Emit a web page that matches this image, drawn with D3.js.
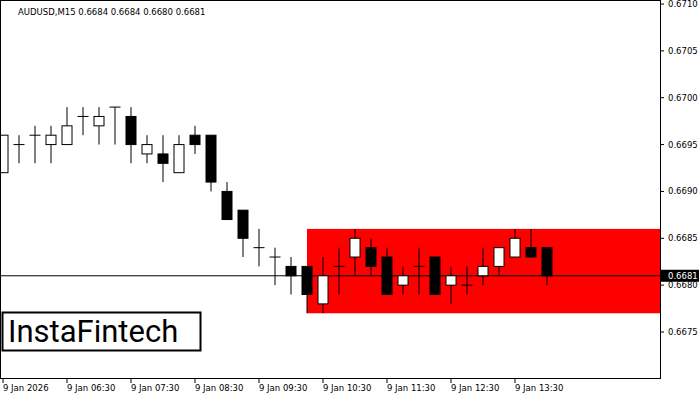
<!doctype html>
<head><meta charset="utf-8" />
<style>
  body { margin: 0; background: #fff; }
  text { font-family: "DejaVu Sans", sans-serif; font-size: 8.5px; fill: #000; }
</style>
</head>
<body>
<svg id="chart" width="700" height="400"></svg>
<script src="https://cdn.jsdelivr.net/npm/d3@7/dist/d3.min.js"></script>
<script>
  var opens  = [.6692,.6695,.6696,.6695,.6695,.6698,.6697,.6699,.6698,.6694,.6694,.6692,.6696,.6696,.6690,.6688,.6684,.6683,.6682,.6682,.6678,.6682,.6683,.6684,.6683,.6680,.6682,.6683,.6680,.6680,.6681,.6682,.6683,.6684,.6684]
    , highs  = [.6696,.6696,.6697,.6697,.6699,.6699,.6699,.6699,.6699,.6696,.6696,.6696,.6697,.6696,.6691,.6688,.6686,.6684,.6683,.6682,.6683,.6684,.6686,.6685,.6684,.6682,.6684,.6683,.6682,.6682,.6684,.6684,.6686,.6686,.6684]
    , lows   = [.6692,.6693,.6693,.6693,.6695,.6696,.6695,.6695,.6693,.6693,.6691,.6692,.6694,.6690,.6687,.6683,.6682,.6680,.6679,.6677,.6677,.6679,.6681,.6681,.6679,.6679,.6679,.6679,.6678,.6679,.6680,.6681,.6683,.6683,.6680]
    , closes = [.6696,.6695,.6696,.6696,.6697,.6698,.6698,.6699,.6695,.6695,.6693,.6695,.6695,.6691,.6687,.6685,.6684,.6683,.6681,.6679,.6681,.6682,.6685,.6682,.6679,.6681,.6682,.6679,.6681,.6680,.6682,.6684,.6685,.6683,.6681]
    , priceTicks = [.6675,.6680,.6685,.6690,.6695,.6700,.6705,.6710]
    , timeLabels = ['9 Jan 2026','9 Jan 06:30','9 Jan 07:30','9 Jan 08:30','9 Jan 09:30','9 Jan 10:30','9 Jan 11:30','9 Jan 12:30','9 Jan 13:30']
    , timeIdx = [0,4,8,12,16,20,24,28,32]
    , zoneTop = .6686, zoneBottom = .6677, zoneStart = 19
    , last = .6681

  var W = 660, H = 378
    , svg = d3.select('#chart')
    , x = d3.scaleLinear().domain([0, 1]).range([3, 19])
    , y = d3.scaleLinear().domain([.6710, .6675]).range([4, 332])
    , fmt = d3.format('.4f')

  // sell zone
  svg.append('rect')
      .attr('x', x(zoneStart)).attr('y', y(zoneTop))
      .attr('width', W - x(zoneStart)).attr('height', y(zoneBottom) - y(zoneTop))
      .attr('fill', '#ff0000')

  // last price line
  svg.append('line')
      .attr('x1', 0).attr('x2', W).attr('y1', y(last)).attr('y2', y(last))
      .attr('stroke', '#000').attr('stroke-width', 1)

  var candles = svg.append('g').selectAll('g').data(opens).join('g')

  candles.append('line')
      .attr('x1', (d, i) => x(i)).attr('x2', (d, i) => x(i))
      .attr('y1', (d, i) => y(highs[i])).attr('y2', (d, i) => y(lows[i]))
      .attr('stroke', '#000')

  candles.append('rect')
      .attr('x', (d, i) => x(i) - 5)
      .attr('y', (d, i) => y(Math.max(d, closes[i])))
      .attr('width', 10)
      .attr('height', (d, i) => Math.max(0.01, Math.abs(y(d) - y(closes[i]))))
      .attr('fill', (d, i) => closes[i] < d ? '#000' : '#fff')
      .attr('stroke', '#000')

  // frame
  svg.append('rect').attr('x', 0.5).attr('y', 0.5).attr('width', W).attr('height', H)
      .attr('fill', 'none').attr('stroke', '#000')

  // right axis
  var ra = svg.append('g')
  priceTicks.forEach(function (p) {
    ra.append('line').attr('x1', W).attr('x2', W + 4).attr('y1', y(p)).attr('y2', y(p)).attr('stroke', '#000')
    ra.append('text').attr('x', W + 8).attr('y', y(p) + 3).text(fmt(p))
  })
  ra.append('rect').attr('x', W + 1).attr('y', y(last) - 6).attr('width', 38).attr('height', 12).attr('fill', '#000')
  ra.append('text').attr('x', W + 8).attr('y', y(last) + 3).style('fill', '#fff').text(fmt(last))

  // bottom axis
  timeIdx.forEach(function (t, k) {
    var tx = k === 0 ? 3 : x(t)
    svg.append('line').attr('x1', tx).attr('x2', tx).attr('y1', H).attr('y2', H + 5).attr('stroke', '#000')
    svg.append('text').attr('x', tx).attr('y', H + 13).text(timeLabels[k])
  })

  svg.append('text').attr('x', 18).attr('y', 15)
      .text('AUDUSD,M15  0.6684 0.6684 0.6680 0.6681')

  // logo
  svg.append('rect').attr('x', 2.5).attr('y', 312.5).attr('width', 198).attr('height', 38)
      .attr('fill', '#fff').attr('stroke', '#000').attr('stroke-width', 2)
  svg.append('text').attr('x', 8).attr('y', 342)
      .style('font-family', 'Roboto, sans-serif').style('font-size', '31px')
      .text('InstaFintech')
</script>
</body>
